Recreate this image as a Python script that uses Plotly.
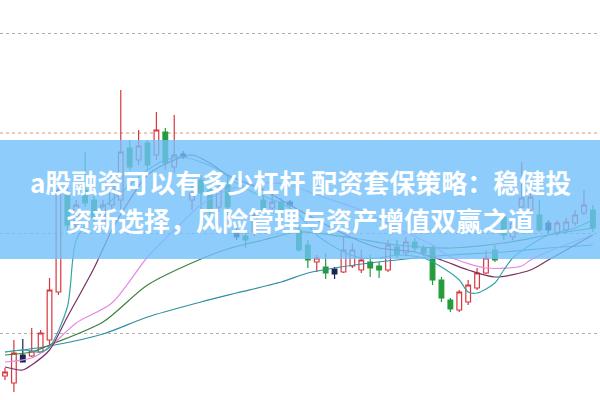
import plotly.graph_objects as go

# ---- data (price units) ----
idx = list(range(67))
opens = [8.57, 8.50, 8.78, 8.77, 8.81, 8.93, 9.41, 10.38, 10.08, 10.43,
         10.33, 10.11, 10.28, 10.33, 10.85, 10.73, 10.90, 10.78, 11.01, 10.66,
         10.79, 10.33, 10.53, 10.43, 10.26, 10.48, 10.02, 9.97, 10.01, 10.33,
         10.25, 10.31, 10.31, 10.03, 9.88, 9.71, 9.66, 9.64, 9.61, 9.67,
         9.63, 9.71, 9.67, 9.63, 9.86, 9.80, 9.91, 9.85, 9.85, 9.53,
         9.33, 9.23, 9.31, 9.45, 9.60, 9.83, 10.16, 9.96, 10.26, 10.23,
         10.18, 10.10, 10.00, 10.03, 10.10, 10.20, 10.23]
highs = [8.65, 8.93, 8.94, 9.05, 9.03, 9.55, 10.48, 10.45, 10.33, 10.81,
         10.38, 10.33, 10.58, 11.43, 10.93, 11.03, 10.93, 11.21, 11.05, 11.18,
         10.82, 10.48, 10.58, 10.48, 10.48, 10.58, 10.05, 10.03, 10.23, 10.38,
         10.38, 10.35, 10.33, 10.08, 9.93, 9.78, 9.80, 9.66, 9.96, 9.90,
         9.83, 9.78, 9.71, 9.93, 9.93, 9.96, 9.95, 9.88, 9.88, 9.56,
         9.35, 9.43, 9.53, 9.65, 9.83, 9.88, 10.20, 10.13, 10.71, 10.55,
         10.33, 10.13, 10.13, 10.15, 10.23, 10.43, 10.28]
lows = [8.53, 8.41, 8.71, 8.76, 8.81, 8.88, 9.38, 10.02, 10.03, 10.26,
        10.08, 10.05, 10.23, 10.23, 10.63, 10.68, 10.63, 10.73, 10.63, 10.60,
        10.74, 10.23, 10.23, 10.18, 10.21, 10.18, 9.93, 9.85, 9.97, 10.19,
        10.23, 10.13, 10.26, 9.81, 9.65, 9.61, 9.54, 9.54, 9.60, 9.65,
        9.60, 9.56, 9.55, 9.61, 9.75, 9.77, 9.81, 9.77, 9.48, 9.31,
        9.21, 9.21, 9.28, 9.43, 9.59, 9.71, 9.93, 9.93, 10.23, 10.21,
        10.01, 10.00, 9.97, 10.00, 10.07, 10.18, 10.01]
closes = [8.61, 8.80, 8.71, 8.82, 9.00, 9.43, 10.43, 10.08, 10.28, 10.30,
          10.16, 10.28, 10.48, 10.81, 10.66, 10.87, 10.68, 11.03, 10.70, 10.78,
          10.76, 10.40, 10.40, 10.21, 10.43, 10.26, 9.96, 9.93, 10.18, 10.23,
          10.31, 10.21, 10.28, 9.83, 9.73, 9.75, 9.60, 9.59, 9.83, 9.83,
          9.73, 9.65, 9.63, 9.88, 9.78, 9.91, 9.85, 9.80, 9.53, 9.35,
          9.24, 9.41, 9.48, 9.60, 9.75, 9.73, 9.98, 10.10, 10.35, 10.36,
          10.03, 10.03, 10.10, 10.11, 10.18, 10.28, 10.05]
doji_idx = [2, 20, 26, 32, 37, 61]

# moving-average lines (index, price)
ma5_x = [0, 2, 4, 5, 7, 8, 10, 12, 14, 16, 18, 20, 22, 24, 26, 28, 31, 33, 35, 38,
         40, 42, 44, 47, 49, 51, 52, 53, 55, 56, 57, 59, 61, 64, 66]
ma5_y = [8.81, 8.83, 8.81, 8.86, 9.26, 9.93, 10.18, 10.33, 10.48, 10.63, 10.73, 10.76,
         10.71, 10.63, 10.50, 10.40, 10.30, 10.18, 9.98, 9.81, 9.75, 9.75, 9.78, 9.75,
         9.66, 9.53, 9.41, 9.40, 9.50, 9.63, 9.75, 9.88, 9.98, 10.05, 10.13]
ma10_x = [0, 2, 3, 5, 7, 10, 12, 14, 16, 19, 21, 23, 25, 29, 32, 35, 39, 42, 46, 49,
          52, 55, 59, 61, 64, 66]
ma10_y = [8.66, 8.63, 8.68, 8.83, 9.16, 9.65, 10.03, 10.33, 10.58, 10.73, 10.78, 10.70,
          10.58, 10.43, 10.28, 10.13, 9.95, 9.85, 9.81, 9.73, 9.63, 9.56, 9.63, 9.73,
          9.88, 9.98]
ma20_x = [0, 3, 5, 8, 12, 16, 19, 22, 25, 29, 32, 35, 40, 44, 48, 50, 54, 58, 59, 62, 66]
ma20_y = [8.71, 8.75, 8.86, 9.10, 9.30, 9.76, 10.03, 10.28, 10.43, 10.50, 10.48, 10.38,
          10.23, 10.05, 9.88, 9.76, 9.65, 9.67, 9.73, 9.85, 9.98]
ma30_x = [0, 3, 5, 11, 16, 22, 25, 29, 33, 39, 44, 50, 56, 61, 66]
ma30_y = [8.78, 8.81, 8.88, 9.11, 9.48, 9.74, 9.84, 9.93, 10.01, 9.95, 9.88, 9.85,
          9.90, 9.98, 10.05]
ma60_x = [0, 5, 11, 16, 22, 26, 31, 34, 37, 41, 44, 50, 56, 61, 66]
ma60_y = [8.81, 8.87, 8.99, 9.16, 9.31, 9.40, 9.51, 9.60, 9.65, 9.70, 9.73, 9.78,
          9.81, 9.85, 9.88]

grid_vals = [9.0, 10.0, 12.0]
ref_price = 11.0

title_line1 = "a股融资可以有多少杠杆 配资套保策略：稳健投"
title_line2 = "资新选择，风险管理与资产增值双赢之道"

UP = "#d9363e"
DOWN = "#259b3c"
DOJI = "#1c2450"

reg = [i for i in idx if i not in doji_idx]

fig = go.Figure()
fig.add_trace(go.Candlestick(
    x=reg, open=[opens[i] for i in reg], high=[highs[i] for i in reg],
    low=[lows[i] for i in reg], close=[closes[i] for i in reg],
    increasing=dict(line=dict(color=UP, width=1.2), fillcolor="white"),
    decreasing=dict(line=dict(color=DOWN, width=1.2), fillcolor=DOWN),
    whiskerwidth=0, hoverinfo="skip"))
fig.add_trace(go.Candlestick(
    x=doji_idx, open=[opens[i] for i in doji_idx], high=[highs[i] for i in doji_idx],
    low=[lows[i] for i in doji_idx], close=[closes[i] for i in doji_idx],
    increasing=dict(line=dict(color=DOJI, width=1.2), fillcolor=DOJI),
    decreasing=dict(line=dict(color=DOJI, width=1.2), fillcolor=DOJI),
    whiskerwidth=0, hoverinfo="skip"))

for xs, ys, col in [(ma60_x, ma60_y, "#2f8fa0"), (ma30_x, ma30_y, "#3f8040"),
                    (ma20_x, ma20_y, "#e58ae5"), (ma10_x, ma10_y, "#7a3060"),
                    (ma5_x, ma5_y, "#34a3a6")]:
    fig.add_trace(go.Scatter(x=xs, y=ys, mode="lines",
                             line=dict(color=col, width=1.2, shape="spline", smoothing=0.8),
                             hoverinfo="skip"))

fig.add_shape(type="line", xref="paper", x0=0, x1=1, yref="y", y0=ref_price, y1=ref_price,
              line=dict(color="#d09878", width=1, dash="dot"), layer="below")
fig.add_shape(type="rect", xref="paper", x0=0, x1=1, yref="paper", y0=0.3525, y1=0.65,
              fillcolor="rgba(114,192,250,0.8)", line=dict(width=0), layer="above")

for txt, yy in [(title_line1, 0.545), (title_line2, 0.4525)]:
    fig.add_annotation(text=txt, xref="paper", yref="paper", x=0.5, y=yy,
                       xanchor="center", yanchor="middle", showarrow=False,
                       font=dict(family="Noto Sans CJK SC", size=26, color="white",
                                 weight="bold"))

fig.update_layout(
    width=600, height=400, margin=dict(l=0, r=0, t=0, b=0),
    paper_bgcolor="white", plot_bgcolor="white", showlegend=False,
    boxgap=0.25,
    xaxis=dict(range=[-0.56, 66.8], showgrid=False, zeroline=False, showticklabels=False,
               rangeslider=dict(visible=False), showline=False, fixedrange=True),
    yaxis=dict(range=[8.33, 12.33], tickvals=grid_vals, showticklabels=False,
               showgrid=True, gridcolor="#b0b0b0", griddash="dot", gridwidth=1,
               zeroline=False, showline=False, fixedrange=True),
)

fig.write_html("out.html", config={"displayModeBar": False},
               post_script="document.body.style.margin='0';document.body.style.overflow='hidden';")
